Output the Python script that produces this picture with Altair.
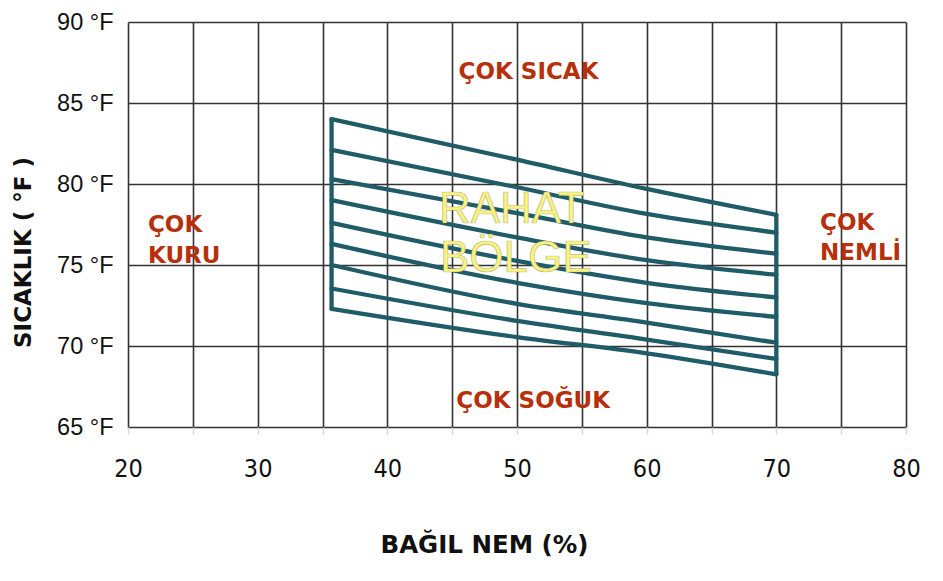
import altair as alt
import pandas as pd

# Relative humidity sample points along each comfort line (%)
rh_points = [35.7, 50, 60, 70]

# Temperature (°F) of each hatch line at the humidity points above
line_temps = [
    [84.0, 81.5, 79.7, 78.1],
    [82.1, 79.8, 78.15, 77.0],
    [80.3, 78.2, 76.7, 75.7],
    [79.0, 76.7, 75.3, 74.4],
    [77.6, 75.25, 73.9, 73.0],
    [76.3, 73.9, 72.65, 71.8],
    [75.0, 72.6, 71.45, 70.2],
    [73.55, 71.55, 70.4, 69.2],
    [72.3, 70.55, 69.55, 68.25],
]

x_ticks = list(range(20, 81, 5))
y_ticks = list(range(65, 91, 5))

# Zone labels (text, humidity, temperature, alignment)
zone_text = ["ÇOK", "KURU", "ÇOK", "NEMLİ", "ÇOK SICAK", "ÇOK SOĞUK"]
zone_x = [21.54, 21.54, 73.37, 73.37, 50.89, 51.25]
zone_y = [77.06, 75.14, 77.16, 75.31, 86.48, 66.15]
zone_align = ["left", "left", "left", "left", "center", "center"]

comfort_text = ["RAHAT", "BÖLGE"]
comfort_x = [49.6, 49.9]
comfort_y = [77.57, 74.59]

rows = []
for i, temps in enumerate(line_temps):
    for j, (h, t) in enumerate(zip(rh_points, temps)):
        rows.append({"line": f"l{i}", "order": j, "rh": h, "temp": t})
lines_df = pd.DataFrame(rows)

edges_df = pd.DataFrame([
    {"line": "left", "order": 0, "rh": rh_points[0], "temp": line_temps[0][0]},
    {"line": "left", "order": 1, "rh": rh_points[0], "temp": line_temps[-1][0]},
    {"line": "right", "order": 0, "rh": rh_points[-1], "temp": line_temps[0][-1]},
    {"line": "right", "order": 1, "rh": rh_points[-1], "temp": line_temps[-1][-1]},
])

zones_df = pd.DataFrame({"text": zone_text, "rh": zone_x, "temp": zone_y, "align": zone_align})
comfort_df = pd.DataFrame({"text": comfort_text, "rh": comfort_x, "temp": comfort_y})

x_enc = alt.X(
    "rh:Q",
    scale=alt.Scale(domain=[20, 80], nice=False, zero=False),
    axis=alt.Axis(
        values=x_ticks,
        labelExpr="datum.value % 10 == 0 ? datum.value : ''",
        grid=True, gridColor="#333333", gridWidth=1.6,
        domain=False, ticks=True, tickSize=7, tickColor="#d6d6d6", tickWidth=1.5,
        labelFont="DejaVu Sans Condensed, DejaVu Sans", labelFontSize=25,
        labelColor="#111111", labelPadding=22, labelFlush=False, labelOverlap=False,
        title="BAĞIL NEM (%)", titleFont="DejaVu Sans", titleFontWeight="bold",
        titleFontSize=24.5, titleColor="#111111", titleX=356, titleY=118,
        titleAlign="center", titleBaseline="middle",
    ),
)
y_enc = alt.Y(
    "temp:Q",
    scale=alt.Scale(domain=[65, 90], nice=False, zero=False),
    axis=alt.Axis(
        values=y_ticks,
        labelExpr="datum.value + ' °F'",
        grid=True, gridColor="#333333", gridWidth=1.6,
        domain=False, ticks=False,
        labelFont="Liberation Sans", labelFontSize=23.5, labelColor="#111111",
        labelPadding=15, labelFlush=False, labelOverlap=False,
        title="SICAKLIK ( °F )", titleFont="DejaVu Sans", titleFontWeight="bold",
        titleFontSize=23, titleColor="#111111", titleX=-105, titleY=230,
        titleAngle=270, titleAlign="center", titleBaseline="middle",
    ),
)

hatch = alt.Chart(lines_df).mark_line(
    color="#1f5c68", strokeWidth=4.3, strokeCap="round", strokeJoin="round", interpolate="monotone"
).encode(x=x_enc, y=y_enc, detail="line:N", order="order:O")

edges = alt.Chart(edges_df).mark_line(
    color="#1f5c68", strokeWidth=4.3, strokeCap="round"
).encode(x="rh:Q", y="temp:Q", detail="line:N", order="order:O")

zones_left = alt.Chart(zones_df[zones_df["align"] == "left"]).mark_text(
    align="left", baseline="alphabetic", font="DejaVu Sans", fontWeight="bold",
    fontSize=23, color="#b5300b"
).encode(x="rh:Q", y="temp:Q", text="text:N")

zones_center = alt.Chart(zones_df[zones_df["align"] == "center"]).mark_text(
    align="center", baseline="alphabetic", font="DejaVu Sans", fontWeight="bold",
    fontSize=23, color="#b5300b"
).encode(x="rh:Q", y="temp:Q", text="text:N")

comfort = alt.Chart(comfort_df).mark_text(
    align="center", baseline="alphabetic", font="Liberation Sans", fontSize=44,
    color="#f7f284", stroke="#8f8a48", strokeWidth=0.7, strokeOpacity=0.55
).encode(x="rh:Q", y="temp:Q", text="text:N")

chart = alt.layer(
    hatch, edges, zones_left, zones_center, comfort
).properties(
    width=778, height=405,
    autosize=alt.AutoSizeParams(type="none"),
    padding={"left": 120, "top": 14, "right": 25, "bottom": 140},
    background="white",
).configure_view(stroke="transparent")

chart.save("out.html", embed_options={"renderer": "svg", "actions": False})
